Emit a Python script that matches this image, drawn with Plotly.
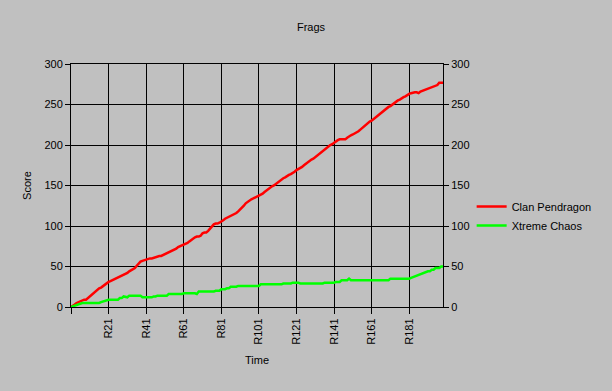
import plotly.graph_objects as go

title_text = "Frags"
x_title = "Time"
y_title = "Score"
series_names = ["Clan Pendragon", "Xtreme Chaos"]

clan_pendragon = [
    0, 1, 3, 5, 6, 8, 9, 9, 9, 11,
    13, 15, 17, 20, 21, 23, 24, 26, 27, 29,
    31, 32, 33, 34, 35, 36, 37, 39, 40, 41,
    42, 44, 45, 47, 48, 51, 54, 56, 57, 58,
    59, 59, 60, 60, 61, 62, 62, 63, 63, 64,
    65, 66, 67, 68, 69, 70, 72, 74, 75, 76,
    76, 77, 79, 81, 83, 85, 86, 87, 87, 88,
    91, 92, 92, 94, 97, 100, 102, 103, 103, 104,
    105, 107, 109, 110, 111, 112, 114, 115, 116, 118,
    120, 122, 125, 128, 130, 132, 133, 134, 135, 136,
    137, 138, 140, 142, 144, 146, 147, 149, 150, 152,
    154, 156, 158, 159, 160, 162, 163, 164, 165, 167,
    169, 170, 171, 173, 175, 177, 179, 180, 182, 183,
    185, 187, 189, 190, 192, 194, 196, 198, 200, 201,
    203, 205, 206, 207, 207, 207, 207, 209, 211, 212,
    213, 214, 215, 217, 219, 221, 224, 225, 227, 229,
    230, 232, 234, 236, 238, 240, 242, 243, 245, 247,
    248, 250, 251, 253, 255, 256, 258, 259, 260, 262,
    263, 264, 265, 265, 265, 264, 266, 267, 268, 269,
    270, 271, 272, 273, 273, 274, 277, 277, 277,
]

xtreme_chaos = [
    0, 1, 2, 3, 3, 4, 5, 5, 5, 5,
    5, 5, 5, 5, 5, 5, 6, 7, 7, 8,
    9, 9, 9, 9, 9, 9, 11, 11, 13, 12,
    12, 14, 14, 14, 14, 14, 14, 14, 12, 12,
    12, 12, 12, 12, 13, 13, 14, 14, 14, 14,
    14, 14, 16, 16, 16, 16, 16, 16, 16, 16,
    17, 17, 17, 17, 17, 17, 17, 16, 19, 19,
    19, 19, 19, 19, 19, 19, 19, 20, 20, 20,
    22, 22, 22, 23, 23, 25, 25, 25, 25, 26,
    26, 26, 26, 26, 26, 26, 26, 26, 26, 26,
    26, 28, 28, 28, 28, 28, 28, 28, 28, 28,
    28, 28, 28, 29, 29, 29, 29, 29, 30, 30,
    30, 30, 29, 29, 29, 29, 29, 29, 29, 29,
    29, 29, 29, 29, 29, 30, 30, 30, 30, 30,
    30, 31, 31, 31, 33, 33, 33, 33, 35, 33,
    33, 33, 33, 33, 33, 33, 33, 33, 33, 33,
    33, 33, 33, 33, 33, 33, 33, 33, 33, 33,
    35, 35, 35, 35, 35, 35, 35, 35, 35, 35,
    35, 36, 37, 38, 39, 40, 41, 42, 43, 44,
    44, 44, 46, 46, 48, 48, 48, 50, 50,
]

rounds = list(range(1, len(clan_pendragon) + 1))
tick_rounds = [1, 21, 41, 61, 81, 101, 121, 141, 161, 181]
tick_labels = ["", "R21", "R41", "R61", "R81", "R101", "R121", "R141", "R161", "R181"]
y_ticks = [0, 50, 100, 150, 200, 250, 300]

FONT = "Liberation Sans, Arial, sans-serif"
BG = "#C0C0C0"

fig = go.Figure()
fig.add_trace(go.Scatter(x=rounds, y=clan_pendragon, mode="lines", name=series_names[0],
                         line=dict(color="#FF0000", width=2.5, shape="linear")))
fig.add_trace(go.Scatter(x=rounds, y=xtreme_chaos, mode="lines", name=series_names[1],
                         line=dict(color="#00FF00", width=2.5, shape="linear")))
# invisible trace so the right axis shows its labels
fig.add_trace(go.Scatter(x=[rounds[0]], y=[0], yaxis="y2", mode="markers",
                         marker=dict(opacity=0), showlegend=False, hoverinfo="skip"))

fig.update_layout(
    width=612, height=391,
    paper_bgcolor=BG, plot_bgcolor=BG,
    margin=dict(l=71, r=169, t=64, b=84),
    font=dict(family=FONT, size=11, color="#000000"),
    title=dict(text=title_text, x=311/612, xref="container", xanchor="center",
               y=1 - 27/391, yref="container", yanchor="middle", font=dict(size=11)),
    showlegend=True,
    legend=dict(x=1.077, y=0.374, xanchor="left", yanchor="middle",
                bgcolor="rgba(0,0,0,0)", font=dict(size=11), itemwidth=30,
                tracegroupgap=0),
    xaxis=dict(range=[rounds[0], rounds[-1]], tickmode="array", tickvals=tick_rounds,
               ticktext=tick_labels, tickangle=-90, ticks="outside", ticklen=6,
               tickcolor="#000", showgrid=True, gridcolor="#000", gridwidth=1,
               showline=True, linecolor="#000", linewidth=1, mirror=True,
               zeroline=False, title=dict(text=x_title, standoff=12, font=dict(size=11)),
               tickfont=dict(size=11)),
    yaxis=dict(range=[0, 300], tickvals=y_ticks, ticks="outside", ticklen=5,
               tickcolor="#000", showgrid=True, gridcolor="#000", gridwidth=1,
               showline=True, linecolor="#000", linewidth=1, zeroline=False,
               title=dict(text=y_title, standoff=10, font=dict(size=11)),
               tickfont=dict(size=11)),
    yaxis2=dict(range=[0, 300], tickvals=y_ticks, overlaying="y", side="right",
                ticks="outside", ticklen=5, tickcolor="#000", showgrid=False,
                showline=True, linecolor="#000", linewidth=1, zeroline=False,
                tickfont=dict(size=11)),
)

fig.write_html("out.html")
